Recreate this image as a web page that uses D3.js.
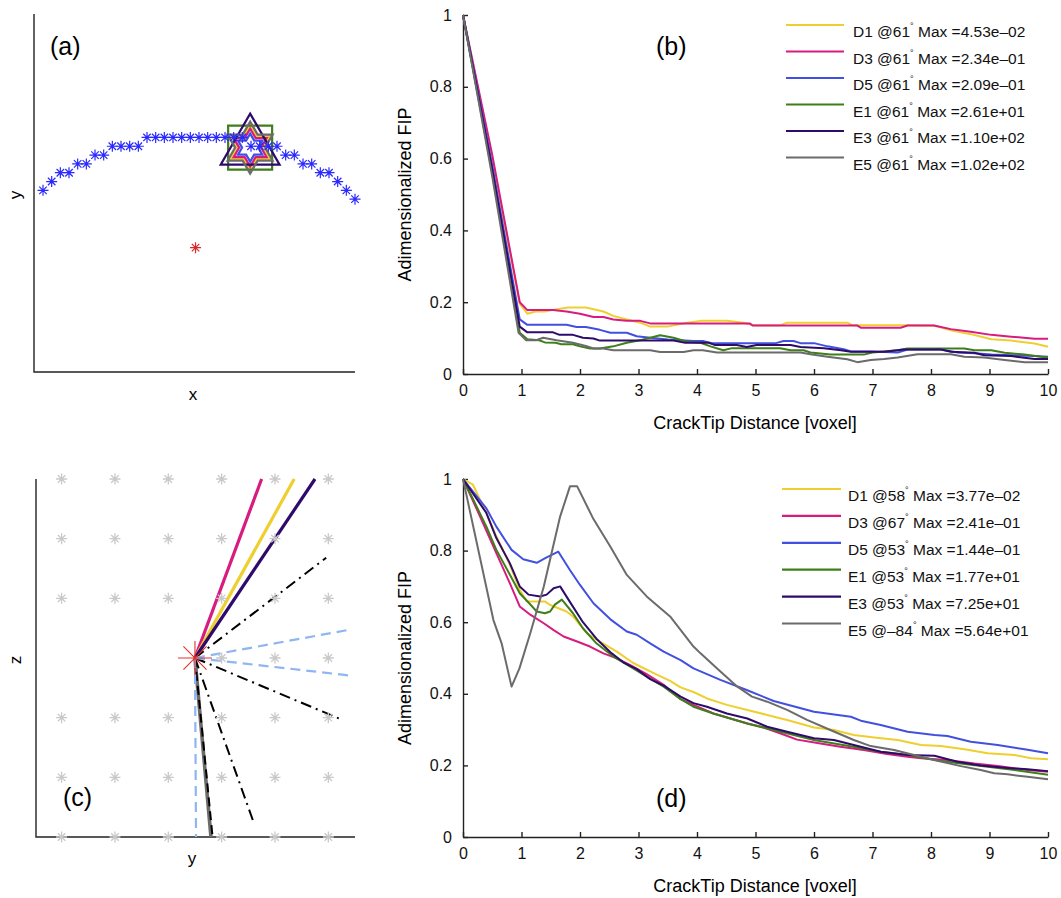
<!DOCTYPE html>
<html><head><meta charset="utf-8">
<script src="https://cdn.jsdelivr.net/npm/d3@7"></script>
<style>
body{margin:0;background:#fff;}
svg{font-family:"Liberation Sans", Arial, Helvetica, sans-serif;}
</style></head><body>
<svg id="chart" width="1061" height="898"></svg>
<script>
// ---------------- DATA ----------------
const seriesNames = ["D1","D3","D5","E1","E3","E5"];
const anglesB = [61,61,61,61,61,61];
const maxB = ["4.53e–02","2.34e–01","2.09e–01","2.61e+01","1.10e+02","1.02e+02"];
const anglesD = [58,67,53,53,53,-84];
const maxD = ["3.77e–02","2.41e–01","1.44e–01","1.77e+01","7.25e+01","5.64e+01"];
const xTicks = [0,1,2,3,4,5,6,7,8,9,10];
const yTicks = [0,0.2,0.4,0.6,0.8,1];
const yTickLabels = ["0","0.2","0.4","0.6","0.8","1"];

// panel (b): FIP vs distance, 61 degrees
const bD1 = [[0,1],[0.5,0.6],[0.97,0.195],[1.1,0.168],[1.24,0.174],[1.4,0.174],[1.58,0.18],[1.8,0.185],[2.1,0.185],[2.4,0.174],[2.57,0.162],[2.8,0.152],[3.03,0.143],[3.2,0.132],[3.49,0.132],[3.83,0.143],[4.06,0.148],[4.5,0.148],[4.8,0.143],[4.97,0.136],[5.43,0.136],[5.54,0.143],[6.57,0.143],[6.65,0.136],[7.6,0.136],[8.05,0.135],[8.34,0.122],[8.68,0.111],[9.03,0.097],[9.37,0.093],[9.77,0.085],[10,0.076]];
const bD3 = [[0,1],[0.5,0.61],[0.97,0.2],[1.1,0.178],[1.54,0.178],[1.77,0.174],[2.0,0.168],[2.23,0.159],[2.4,0.159],[2.57,0.152],[2.8,0.148],[3.03,0.148],[3.2,0.141],[4.9,0.141],[4.95,0.135],[6.74,0.135],[6.8,0.129],[7.48,0.129],[7.6,0.135],[8.05,0.135],[8.34,0.125],[8.68,0.118],[9.03,0.109],[9.37,0.104],[9.77,0.098],[10,0.098]];
const bD5 = [[0,1],[0.5,0.58],[0.97,0.152],[1.1,0.137],[1.77,0.137],[1.94,0.131],[2.1,0.131],[2.34,0.123],[2.52,0.115],[2.8,0.115],[2.97,0.105],[3.2,0.101],[3.5,0.096],[3.94,0.092],[4.1,0.092],[4.25,0.086],[5.35,0.086],[5.48,0.092],[5.65,0.092],[5.77,0.086],[6.0,0.086],[6.23,0.077],[6.51,0.069],[6.63,0.063],[6.97,0.063],[7.43,0.06],[7.6,0.068],[8.17,0.068],[8.46,0.06],[8.74,0.058],[9.03,0.054],[9.77,0.05],[10,0.048]];
const bE1 = [[0,1],[0.5,0.56],[0.97,0.115],[1.1,0.097],[1.3,0.094],[1.4,0.088],[1.58,0.087],[1.68,0.083],[1.88,0.083],[2.0,0.077],[2.17,0.071],[2.34,0.071],[2.57,0.077],[2.8,0.087],[3.05,0.095],[3.37,0.108],[3.6,0.101],[3.83,0.09],[4.06,0.087],[4.23,0.077],[4.45,0.066],[4.6,0.072],[5.42,0.072],[5.6,0.066],[5.82,0.066],[5.94,0.06],[6.28,0.054],[6.85,0.054],[7.0,0.06],[7.43,0.066],[7.6,0.071],[8.57,0.071],[8.74,0.066],[9.03,0.066],[9.26,0.059],[9.6,0.054],[9.88,0.048],[10,0.046]];
const bE3 = [[0,1],[0.5,0.57],[0.97,0.132],[1.1,0.116],[1.54,0.116],[1.65,0.109],[1.88,0.109],[2.05,0.101],[2.23,0.099],[2.34,0.093],[3.6,0.093],[3.8,0.087],[4.2,0.087],[4.3,0.081],[4.68,0.081],[4.85,0.075],[5.02,0.081],[5.6,0.081],[5.77,0.075],[6.17,0.072],[6.46,0.066],[6.63,0.062],[7.2,0.062],[7.54,0.068],[8.17,0.068],[8.34,0.062],[8.74,0.059],[8.91,0.052],[9.37,0.05],[9.77,0.042],[10,0.042]];
const bE5 = [[0,1],[0.5,0.55],[0.95,0.115],[1.08,0.094],[1.25,0.094],[1.37,0.101],[1.6,0.094],[1.88,0.087],[2.1,0.078],[2.23,0.071],[2.4,0.071],[2.57,0.066],[3.2,0.066],[3.37,0.061],[3.77,0.061],[3.94,0.066],[4.1,0.066],[4.34,0.06],[5.77,0.06],[5.94,0.055],[6.23,0.048],[6.57,0.041],[6.74,0.033],[6.97,0.039],[7.2,0.042],[7.43,0.046],[7.77,0.055],[8.34,0.055],[8.57,0.048],[8.91,0.046],[9.26,0.039],[9.6,0.033],[10,0.033]];

// panel (d): FIP vs distance, max-FIP direction
const dD1 = [[0,1],[0.17,0.984],[0.4,0.905],[0.57,0.84],[0.8,0.761],[0.97,0.69],[1.09,0.658],[1.4,0.658],[1.49,0.648],[1.77,0.63],[1.88,0.616],[2.12,0.569],[2.34,0.546],[2.63,0.518],[2.91,0.486],[3.26,0.458],[3.54,0.436],[3.72,0.418],[3.94,0.405],[4.17,0.387],[4.51,0.369],[4.86,0.355],[5.2,0.341],[5.54,0.327],[6.0,0.306],[6.34,0.299],[6.68,0.285],[7.03,0.278],[7.43,0.271],[7.83,0.257],[8.17,0.254],[8.57,0.245],[8.97,0.234],[9.43,0.229],[9.71,0.22],[10,0.217]];
const dD3 = [[0,1],[0.29,0.896],[0.57,0.793],[0.8,0.709],[0.97,0.644],[1.15,0.621],[1.38,0.597],[1.55,0.578],[1.72,0.56],[1.95,0.546],[2.17,0.532],[2.4,0.513],[2.63,0.499],[2.86,0.48],[3.14,0.455],[3.43,0.425],[3.72,0.385],[3.94,0.369],[4.28,0.345],[4.57,0.331],[4.86,0.317],[5.14,0.306],[5.43,0.289],[5.71,0.272],[6.11,0.261],[6.45,0.252],[6.85,0.243],[7.25,0.232],[7.6,0.224],[7.83,0.22],[8.28,0.215],[8.74,0.205],[9.14,0.198],[9.65,0.187],[10,0.182]];
const dD5 = [[0,1],[0.4,0.918],[0.57,0.867],[0.83,0.802],[1.03,0.776],[1.26,0.766],[1.43,0.781],[1.63,0.797],[1.83,0.745],[2.0,0.704],[2.23,0.653],[2.52,0.608],[2.8,0.574],[2.97,0.565],[3.2,0.541],[3.43,0.518],[3.72,0.494],[3.94,0.471],[4.4,0.439],[4.86,0.41],[5.31,0.38],[6.0,0.35],[6.63,0.336],[6.8,0.325],[7.14,0.313],[7.6,0.294],[8.06,0.285],[8.28,0.282],[8.68,0.266],[9.14,0.257],[9.6,0.245],[10,0.234]];
const dE1 = [[0,1],[0.17,0.944],[0.4,0.867],[0.57,0.802],[0.8,0.733],[0.97,0.681],[1.12,0.655],[1.26,0.63],[1.4,0.625],[1.49,0.63],[1.57,0.649],[1.69,0.663],[1.88,0.625],[2.05,0.583],[2.28,0.541],[2.57,0.504],[2.86,0.476],[3.14,0.448],[3.43,0.42],[3.72,0.385],[3.94,0.364],[4.28,0.345],[4.57,0.331],[4.86,0.317],[5.43,0.294],[6.0,0.271],[6.57,0.255],[7.14,0.238],[7.6,0.229],[8.06,0.215],[8.57,0.204],[8.97,0.196],[9.43,0.187],[10,0.174]];
const dE3 = [[0,1],[0.4,0.905],[0.57,0.835],[0.8,0.765],[0.97,0.7],[1.12,0.677],[1.32,0.672],[1.43,0.677],[1.55,0.695],[1.66,0.7],[1.83,0.656],[2.05,0.6],[2.28,0.554],[2.52,0.516],[2.74,0.488],[2.97,0.469],[3.2,0.441],[3.43,0.423],[3.72,0.392],[3.94,0.374],[4.17,0.364],[4.51,0.345],[4.86,0.331],[5.2,0.308],[5.54,0.294],[6.0,0.276],[6.34,0.271],[6.68,0.257],[7.14,0.238],[7.6,0.229],[8.06,0.227],[8.45,0.21],[8.85,0.2],[9.31,0.193],[9.65,0.189],[10,0.184]];
const dE5 = [[0,1],[0.52,0.606],[0.66,0.541],[0.83,0.42],[0.965,0.471],[1.15,0.569],[1.38,0.699],[1.66,0.895],[1.83,0.98],[1.95,0.98],[2.23,0.888],[2.52,0.811],[2.8,0.732],[3.14,0.672],[3.54,0.616],[3.94,0.532],[4.06,0.513],[4.4,0.462],[4.69,0.42],[4.94,0.392],[5.2,0.378],[5.54,0.355],[5.88,0.327],[6.28,0.299],[6.68,0.271],[6.97,0.254],[7.37,0.243],[7.71,0.229],[8.11,0.213],[8.51,0.198],[8.85,0.187],[9.08,0.178],[9.31,0.175],[9.65,0.168],[10,0.161]];

// panel (a): crack front voxel levels (index along x), crack center, tip location
const frontLevels = [-6,-5,-4,-4,-3,-3,-2,-2,-1,-1,-1,-1,0,0,0,0,0,0,0,0,0,0,0,0,-1,-1,-1,-1,-2,-2,-3,-3,-4,-4,-5,-6,-7];
const crackCenterA = [17.6,-12.5];
const tipA = [23.9,-1.15];

// panel (c): grid of points (y, z), crack tip origin and direction end points
const gridY = [1,2,3,4,5,6];
const gridZ = [0,1,2,3,4,5,6];
const gridSkip = [[1,3],[2,3],[3,3]];
const originC = [3.5,3];
const solidEnds = [[4.75,6],[5.36,6],[5.75,6]];     // D3, D1, E3
const dashDotEnds = [[5.96,4.68],[6.27,1.96],[4.59,0.27]];
const blueDashEnds = [[6.37,3.47],[6.37,2.71],[3.52,0.0]];
const blackDashEnds = [[3.83,0]];
const grayEnds = [[3.8,0]];

// ---------------- STYLE ----------------
const colors = ["#EFCF2F","#D81B7F","#4150E0","#3F7F1A","#2E0B6B","#6B6B6B"];
const axisColor = "#222";
const svg = d3.select("#chart");

function starPath(r){
  const d = r*0.68;
  return `M${-r},0L${r},0M0,${-r}L0,${r}M${-d},${-d}L${d},${d}M${-d},${d}L${d},${-d}`;
}
function hexagramPath(R){
  const ri = R/Math.sqrt(3); const pts=[];
  for(let k=0;k<12;k++){
    const a = (-90 + k*30)*Math.PI/180;
    const rr = k%2===0 ? R : ri;
    pts.push([rr*Math.cos(a), rr*Math.sin(a)]);
  }
  return "M"+pts.map(p=>p.join(",")).join("L")+"Z";
}
function trianglePath(R){
  const pts=[0,1,2].map(k=>{const a=(-90+k*120)*Math.PI/180; return [R*Math.cos(a),R*Math.sin(a)];});
  return "M"+pts.map(p=>p.join(",")).join("L")+"Z";
}
function squarePath(h){ return `M${-h},${-h}L${h},${-h}L${h},${h}L${-h},${h}Z`; }

function plainAxes(g, x0, x1, y0, y1){
  g.append("path").attr("d",`M${x0},${y0}L${x0},${y1}L${x1},${y1}`)
   .attr("fill","none").attr("stroke",axisColor).attr("stroke-width",1.4);
}

// ---------------- PANEL (a) ----------------
{
  const x = d3.scaleLinear().domain([-1.04,36]).range([34,355]);
  const y = d3.scaleLinear().domain([-26.6,14]).range([372,14]);
  const g = svg.append("g");
  plainAxes(g, x.range()[0], x.range()[1], y.range()[1], y.range()[0]);
  const tx = x(tipA[0]), ty = y(tipA[1]);
  const markers = [
    {p:hexagramPath(23), c:colors[0]},
    {p:hexagramPath(19), c:colors[1]},
    {p:hexagramPath(14), c:colors[2]},
    {p:squarePath(22), c:colors[3]},
    {p:trianglePath(34), c:colors[4]},
    {p:hexagramPath(26), c:colors[5]}
  ];
  g.append("g").selectAll("path").data(markers).join("path")
    .attr("d",d=>d.p).attr("transform",`translate(${tx},${ty})`)
    .attr("fill","none").attr("stroke",d=>d.c).attr("stroke-width",2.2);
  g.append("g").selectAll("path").data(frontLevels).join("path")
    .attr("d",starPath(5.5))
    .attr("transform",(d,i)=>`translate(${x(i)},${y(d)})`)
    .attr("fill","none").attr("stroke","#2a2aff").attr("stroke-width",1.2);
  g.append("path").attr("d",starPath(5.5))
    .attr("transform",`translate(${x(crackCenterA[0])},${y(crackCenterA[1])})`)
    .attr("fill","none").attr("stroke","#d62a2a").attr("stroke-width",1.2);
  g.append("text").attr("x",50).attr("y",55).attr("font-size",25).text("(a)");
  g.append("text").attr("x",193).attr("y",400).attr("font-size",17).attr("text-anchor","middle").text("x");
  g.append("text").attr("transform","translate(21,195) rotate(-90)").attr("font-size",17).attr("text-anchor","middle").text("y");
}

// ---------------- PANEL (c) ----------------
{
  const x = d3.scaleLinear().domain([0.52,6.5]).range([36,355]);
  const y = d3.scaleLinear().domain([0,6]).range([837,479]);
  const g = svg.append("g");
  plainAxes(g, x.range()[0], x.range()[1], y.range()[1], y.range()[0]);
  const ox = x(originC[0]), oy = y(originC[1]);
  const seg = (arr)=>arr.map(e=>({x1:ox,y1:oy,x2:x(e[0]),y2:y(e[1])}));
  function drawSegs(arr, color, w, dash){
    g.append("g").selectAll("line").data(seg(arr)).join("line")
      .attr("x1",d=>d.x1).attr("y1",d=>d.y1).attr("x2",d=>d.x2).attr("y2",d=>d.y2)
      .attr("stroke",color).attr("stroke-width",w).attr("stroke-dasharray",dash||null);
  }
  drawSegs([solidEnds[0]], colors[1], 3.2);
  drawSegs([solidEnds[1]], colors[0], 3.2);
  drawSegs([solidEnds[2]], colors[4], 3.2);
  drawSegs(grayEnds, colors[5], 3.6);
  drawSegs(blackDashEnds, "#000", 2, "9,5");
  drawSegs(dashDotEnds, "#000", 2, "11,5,2,5");
  drawSegs(blueDashEnds, "#8DB6F2", 2.2, "10,6");
  const pts = [];
  gridZ.forEach(z=>gridY.forEach(yy=>{
    if(!gridSkip.some(s=>s[0]===yy && s[1]===z)) pts.push([yy,z]);
  }));
  g.append("g").selectAll("path").data(pts).join("path")
    .attr("d",starPath(5.5)).attr("transform",d=>`translate(${x(d[0])},${y(d[1])})`)
    .attr("fill","none").attr("stroke","#c9c9c9").attr("stroke-width",1.3);
  g.append("path").attr("d",starPath(17)).attr("transform",`translate(${ox},${oy})`)
    .attr("fill","none").attr("stroke","#e5302a").attr("stroke-width",1.1);
  g.append("text").attr("x",63).attr("y",806).attr("font-size",25).text("(c)");
  g.append("text").attr("x",192).attr("y",864).attr("font-size",17).attr("text-anchor","middle").text("y");
  g.append("text").attr("transform","translate(21,660) rotate(-90)").attr("font-size",17).attr("text-anchor","middle").text("z");
}

// ---------------- LINE PANELS (b), (d) ----------------
function linePanel(opts){
  const x = d3.scaleLinear().domain([0,10]).range([463,1048]);
  const y = d3.scaleLinear().domain([0,1]).range(opts.yRange);
  const g = svg.append("g");
  const xa = g.append("g").attr("transform",`translate(0,${opts.yRange[0]})`)
    .call(d3.axisBottom(x).tickValues(xTicks).tickSize(-5).tickSizeOuter(0).tickPadding(11).tickFormat(d3.format("d")));
  const ya = g.append("g").attr("transform",`translate(463,0)`)
    .call(d3.axisLeft(y).tickValues(yTicks).tickSize(-5).tickSizeOuter(0).tickPadding(11).tickFormat((d,i)=>yTickLabels[i]));
  [xa,ya].forEach(a=>{
    a.selectAll("path,line").attr("stroke",axisColor).attr("stroke-width",1.4);
    a.selectAll("text").attr("font-size",16).attr("fill","#111").attr("font-family","'Liberation Sans', Arial, sans-serif");
  });
  const line = d3.line().x(d=>x(d[0])).y(d=>y(d[1]));
  g.append("g").selectAll("path").data(opts.series).join("path")
    .attr("d",d=>line(d)).attr("fill","none")
    .attr("stroke",(d,i)=>colors[i]).attr("stroke-width",2).attr("stroke-linejoin","round");
  const lg = g.append("g");
  const rows = seriesNames.map((n,i)=>({n, a:opts.angles[i], m:opts.max[i], i}));
  const ry = i=>opts.leg.y0 + i*opts.leg.dy;
  lg.selectAll("line").data(rows).join("line")
    .attr("x1",opts.leg.x0).attr("x2",opts.leg.x1)
    .attr("y1",d=>ry(d.i)).attr("y2",d=>ry(d.i))
    .attr("stroke",d=>colors[d.i]).attr("stroke-width",2.2);
  const t = lg.selectAll("text").data(rows).join("text")
    .attr("x",opts.leg.tx).attr("y",d=>ry(d.i)+opts.leg.tdy).attr("font-size",15.5).attr("fill","#111");
  t.append("tspan").text(d=>`${d.n} @${d.a<0?"–"+Math.abs(d.a):d.a}`);
  t.append("tspan").attr("font-size",9).attr("dy",-8).text("°");
  t.append("tspan").attr("dy",8).text(d=>` Max =${d.m}`);
  g.append("text").attr("x",656).attr("y",opts.labelY).attr("font-size",25).text(opts.label);
  g.append("text").attr("x",755).attr("y",opts.yRange[0]+55).attr("font-size",18).attr("text-anchor","middle").text("CrackTip Distance [voxel]");
  const cy = (opts.yRange[0]+opts.yRange[1])/2;
  g.append("text").attr("transform",`translate(411,${cy}) rotate(-90)`).attr("font-size",18).attr("text-anchor","middle").text("Adimensionalized FIP");
}

linePanel({yRange:[374,15], series:[bD1,bD3,bD5,bE1,bE3,bE5], angles:anglesB, max:maxB,
  leg:{x0:786,x1:844,y0:25,dy:26.5,tx:853,tdy:12}, label:"(b)", labelY:55});
linePanel({yRange:[837,479], series:[dD1,dD3,dD5,dE1,dE3,dE5], angles:anglesD, max:maxD,
  leg:{x0:782,x1:841,y0:489,dy:26.9,tx:848,tdy:12}, label:"(d)", labelY:807});
</script>
</body></html>
